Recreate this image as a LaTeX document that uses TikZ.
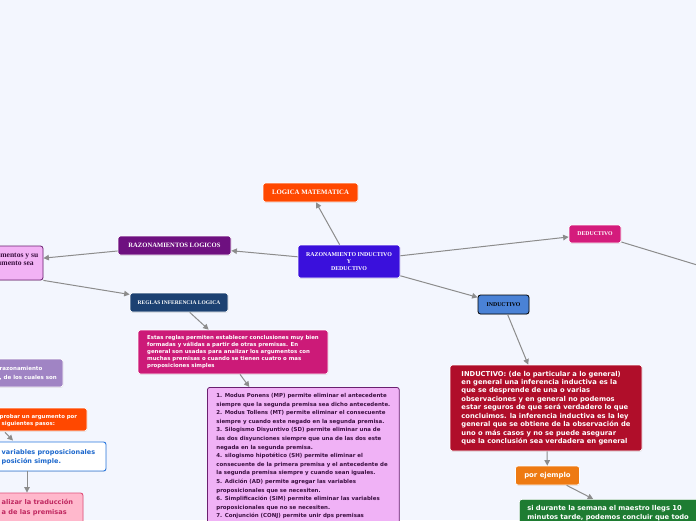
\documentclass[tikz,border=0pt]{standalone}
\usepackage{fontspec}
\setmainfont{Liberation Serif}
\newfontfamily\vsans{DejaVu Sans}
\usetikzlibrary{arrows.meta,shadows,calc}
\definecolor{bg}{HTML}{F3F6FE}
\definecolor{cgray}{HTML}{8C8C8C}
\definecolor{cLog}{HTML}{FF4800}
\definecolor{cCen}{HTML}{3A10DC}
\definecolor{cRaz}{HTML}{6E1080}
\definecolor{cReg}{HTML}{1C4172}
\definecolor{cPinkL}{HTML}{F2B2F5}
\definecolor{cPinkB}{HTML}{6A2070}
\definecolor{cDark}{HTML}{3A1040}
\definecolor{cMag}{HTML}{CC1A78}
\definecolor{cList}{HTML}{F0B2F6}
\definecolor{cLav}{HTML}{A084C4}
\definecolor{cBlue}{HTML}{2A78DE}
\definecolor{cBlueT}{HTML}{1A66CC}
\definecolor{cPink2}{HTML}{FFB8CC}
\definecolor{cPinkB2}{HTML}{E0507A}
\definecolor{cPinkT}{HTML}{C02860}
\definecolor{cDed}{HTML}{D41C7C}
\definecolor{cInd}{HTML}{4A82D6}
\definecolor{cRed}{HTML}{B00E2A}
\definecolor{cOra}{HTML}{EE7A12}
\definecolor{cGreen}{HTML}{1E7C32}
\begin{document}
\begin{tikzpicture}[x=1pt,y=-1pt,
  box/.style={rounded corners=2.5pt, draw=white, line width=0.7pt,
    drop shadow={opacity=0.18,shadow xshift=0.4pt,shadow yshift=-0.8pt}, inner sep=0pt},
  ttl/.style={box, text=white, align=center, font=\bfseries\fontsize{6.6}{7}\selectfont},
  body/.style={font=\vsans\bfseries\fontsize{5.4}{7}\selectfont, align=left},
  ltxt/.style={inner sep=0pt, anchor=north west, align=left},
  conn/.style={draw=cgray, line width=1pt, -{Triangle[length=5.5pt,width=5.5pt]}}
]
\useasboundingbox (0,0) rectangle (696,520);
\fill[bg] (0,0) rectangle (696,520);
\clip (0,0) rectangle (696,520);

% central and title nodes
\node[ttl, fill=cCen, minimum width=102pt, minimum height=33pt,
  font=\bfseries\fontsize{5.9}{7}\selectfont] (cen) at (349,261.5)
  {RAZONAMIENTO INDUCTIVO\\Y\\DEDUCTIVO};
\node[ttl, fill=cLog, minimum width=95pt, minimum height=19pt,
  font=\bfseries\fontsize{6.8}{7}\selectfont] (logica) at (310.5,192.5) {LOGICA MATEMATICA};
\node[ttl, fill=cRaz, minimum width=113pt, minimum height=19pt] (razlog) at (174.5,245.5) {RAZONAMIENTOS LOGICOS};
\node[ttl, fill=cReg, minimum width=98pt, minimum height=19pt,
  font=\bfseries\fontsize{5.5}{7}\selectfont] (reglas) at (179,302.5) {REGLAS INFERENCIA LOGICA};
\node[ttl, fill=cDed, minimum width=52pt, minimum height=18pt,
  font=\bfseries\fontsize{5.8}{7}\selectfont] (ded) at (595,234) {DEDUCTIVO};
\node[ttl, fill=cInd, draw=black, line width=0.8pt, text=black, minimum width=51pt, minimum height=19pt,
  font=\bfseries\fontsize{5.8}{7}\selectfont] (ind) at (503.5,304.5) {INDUCTIVO};
\coordinate (dedR) at (712,269.5);

% body boxes
\node[box, body, fill=cMag, text=white, minimum width=190pt, minimum height=44pt] (mag) at (233,352)
{Estas reglas permiten establecer conclusiones muy bien\\
formadas y válidas a partir de otras premisas. En\\
general son usadas para analizar los argumentos con\\
muchas premisas o cuando se tienen cuatro o mas\\
proposiciones simples};

\node[box, body, draw=cPinkB, line width=0.8pt, fill=cList, text=cDark, anchor=north west,
  inner xsep=9pt, inner ysep=6pt, font=\vsans\bfseries\fontsize{5.45}{8.6}\selectfont] (list) at (207,387)
{1. Modus Ponens (MP) permite eliminar el antecedente\\
siempre que la segunda premisa sea dicho antecedente.\\
2. Modus Tollens (MT) permite eliminar el consecuente\\
siempre y cuando este negado en la segunda premisa.\\
3. Silogismo Disyuntivo (SD) permite eliminar una de\\
las dos disyunciones siempre que una de las dos este\\
negada en la segunda premisa.\\
4. silogismo hipotético (SH) permite eliminar el\\
consecuente de la primera premisa y el antecedente de\\
la segunda premisa siempre y cuando sean iguales.\\
5. Adición (AD) permite agregar las variables\\
proposicionales que se necesiten.\\
6. Simplificación (SIM) permite eliminar las variables\\
proposicionales que no se necesiten.\\
7. Conjunción (CONJ) permite unir dps premisas};

\node[box, body, fill=cRed, text=white, minimum width=192pt, minimum height=86pt,
  font=\vsans\bfseries\fontsize{6.75}{8.45}\selectfont] (red) at (546,408)
{INDUCTIVO: (de lo particular a lo general)\\
en general una inferencia inductiva es la\\
que se desprende de una o varias\\
observaciones y en general no podemos\\
estar seguros de que será verdadero lo que\\
concluimos. la inferencia inductiva es la ley\\
general que se obtiene de la observación de\\
uno o más casos y no se puede asegurar\\
que la conclusión sea verdadera en general};

\node[box, body, fill=cOra, text=white, minimum width=64pt, minimum height=19pt,
  font=\vsans\bfseries\fontsize{6.9}{8}\selectfont] (ej) at (547.5,475.5) {por ejemplo};

\node[box, body, fill=cGreen, text=white, anchor=north west, text width=186pt,
  inner xsep=8pt, inner ysep=6pt, font=\vsans\bfseries\fontsize{6.75}{8.7}\selectfont] (green) at (519,499)
{si durante la semana el maestro llegs 10\\
minutos tarde, podemos concluir que todo};

% left side boxes (partly outside the picture)
\node[box, draw=cPinkB, line width=0.8pt, fill=cPinkL, minimum width=100pt, minimum height=34pt] (pinkL) at (-7,263) {};
\node[inner sep=0pt, align=center, anchor=east, text=cDark,
  font=\bfseries\fontsize{7.6}{8}\selectfont] (pinkT) at (38.5,260) {los argumentos y su\\el argumento sea};

\node[box, fill=cLav, minimum width=123pt, minimum height=28pt] (lavL) at (1.5,373) {};
\node[ltxt, text=white, font=\vsans\bfseries\fontsize{5.5}{9}\selectfont] (lavT) at (-0.5,366.3)
  {razonamiento\\, de los cuales son};

\node[box, fill=cLog, minimum width=187pt, minimum height=23pt] (oraL) at (-6.5,419.5) {};
\node[ltxt, text=white, font=\vsans\bfseries\fontsize{5.4}{7.2}\selectfont] (oraT) at (-0.5,414.2)
  {probar un argumento por\\\hspace*{2pt}siguientes pasos:};

\node[box, draw=cBlue, line width=0.9pt, fill=white, minimum width=206pt, minimum height=29pt] (whiteL) at (3,456.5) {};
\node[ltxt, text=cBlueT, font=\vsans\bfseries\fontsize{6.5}{9}\selectfont] (whiteT) at (1.5,449.5)
  {variables proposicionales\\posición simple.};

\node[box, draw=cPinkB2, line width=0.9pt, fill=cPink2, minimum width=183pt, minimum height=47pt] (pinkL2) at (-8.5,516.5) {};
\node[ltxt, text=cPinkT, font=\vsans\bfseries\fontsize{6.6}{10}\selectfont] (pinkT2) at (1.5,499)
  {alizar la traducción\\a de las premisas};

% connectors
\draw[conn] (cen) -- (logica);
\draw[conn] (cen) -- (razlog);
\draw[conn] (cen) -- (ded);
\draw[conn] (cen) -- (ind);
\draw[conn] (razlog) -- (pinkL);
\draw[conn] (pinkL.south east) -- (reglas);
\draw[conn] (reglas) -- (mag);
\draw[conn] ([xshift=7pt]mag.south) -- ([xshift=-54pt]list.north);
\draw[conn] (ded) -- (dedR);
\draw[conn] (ind) -- (red);
\draw[conn] ([xshift=1pt]red.south) -- (ej);
\draw[conn] (ej) -- (green);
\draw[conn] ($(oraL.south)+(11.5,1)$) -- ($(whiteL.north)+(10,-1)$);
\draw[conn] ($(whiteL.south)+(24,0)$) -- ($(pinkL2.north)+(35.5,0)$);
\end{tikzpicture}
\end{document}
